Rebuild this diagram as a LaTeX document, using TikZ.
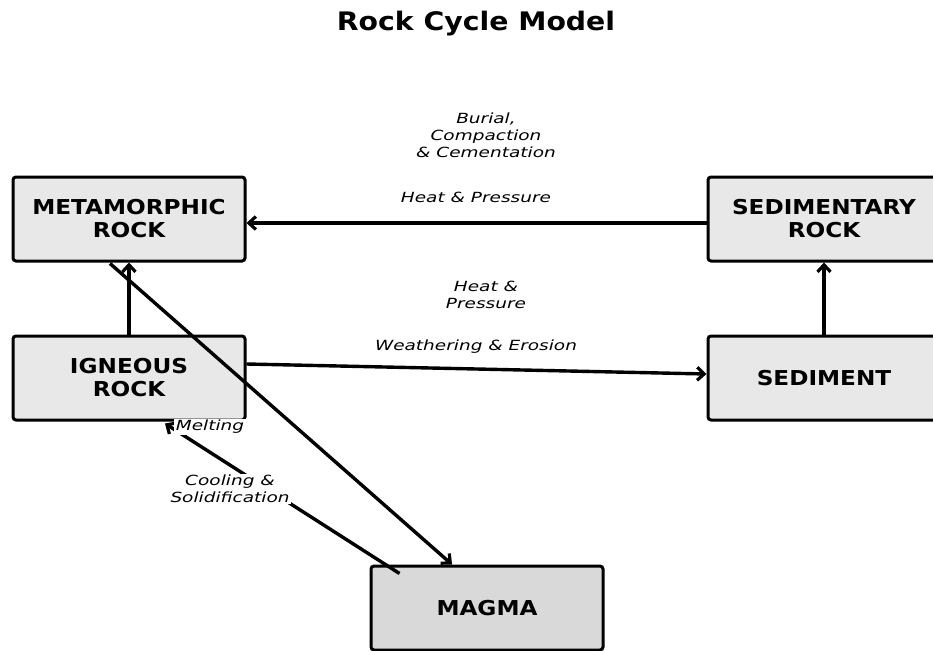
\documentclass[tikz,border=0pt]{standalone}
\usepackage{fontspec}
\setmainfont{DejaVu Sans}
\newfontfamily\titlefont[FakeStretch=1.11]{DejaVu Sans}
\newfontfamily\boxfont[FakeStretch=1.13]{DejaVu Sans}
\newfontfamily\lblfont[FakeStretch=1.32]{DejaVu Sans}
\usetikzlibrary{arrows.meta,calc}
\begin{document}
\begin{tikzpicture}[x=1pt,y=-1pt,
  rockbox/.style={draw=black,line width=3pt,rounded corners=3pt,fill=black!9,
    minimum width=232pt,minimum height=84pt,inner sep=0pt,align=center,
    font=\boxfont\fontsize{20.5}{23}\selectfont\bfseries},
  flow/.style={line width=3.4pt,-{Straight Barb[length=7pt,width=13pt,line width=3.2pt]}},
  lbl/.style={font=\lblfont\fontsize{14}{17}\selectfont\itshape,align=center,inner sep=1.5pt}]
\useasboundingbox (0,0) rectangle (933,650);
\node (title) at (476,24) {\titlefont\fontsize{25.5}{30}\selectfont\bfseries Rock Cycle Model};
\node[rockbox] (met) at (129,219) {METAMORPHIC\\ROCK};
\node[rockbox] (ign) at (129,378) {IGNEOUS\\ROCK};
\node[rockbox] (sedr) at (824,219) {SEDIMENTARY\\ROCK};
\node[rockbox] (sedi) at (824,378) {SEDIMENT};
\node[rockbox,fill=black!15] (mag) at (487,608) {MAGMA};
\draw[flow] ($(sedr.west)+(0,4)$) -- ($(met.east)+(0,4)$);
\draw[flow] ($(ign.east)+(0,-14)$) -- ($(sedi.west)+(0,-4)$);
\draw[flow] (sedi.north) -- (sedr.south);
\draw[flow] (ign.north) -- (met.south);
\draw[flow] ($(met.south)+(-19,1)$) -- ($(mag.north)+(-35,0)$);
\draw[flow] ($(mag.north west)+(30,9)$) -- ($(ign.south)+(36,2)$);
\node[lbl] (lbur) at (486,135) {Burial,\\Compaction\\\& Cementation};
\node[lbl] (lhp1) at (476,197) {Heat \& Pressure};
\node[lbl] (lhp2) at (486,295) {Heat \&\\Pressure};
\node[lbl] (lwe) at (476,347) {Weathering \& Erosion};
\node[lbl,fill=white] (lmelt) at (210,427) {Melting};
\node[lbl,fill=white] (lcool) at (230,489) {Cooling \&\\Solidification};
\end{tikzpicture}
\end{document}
